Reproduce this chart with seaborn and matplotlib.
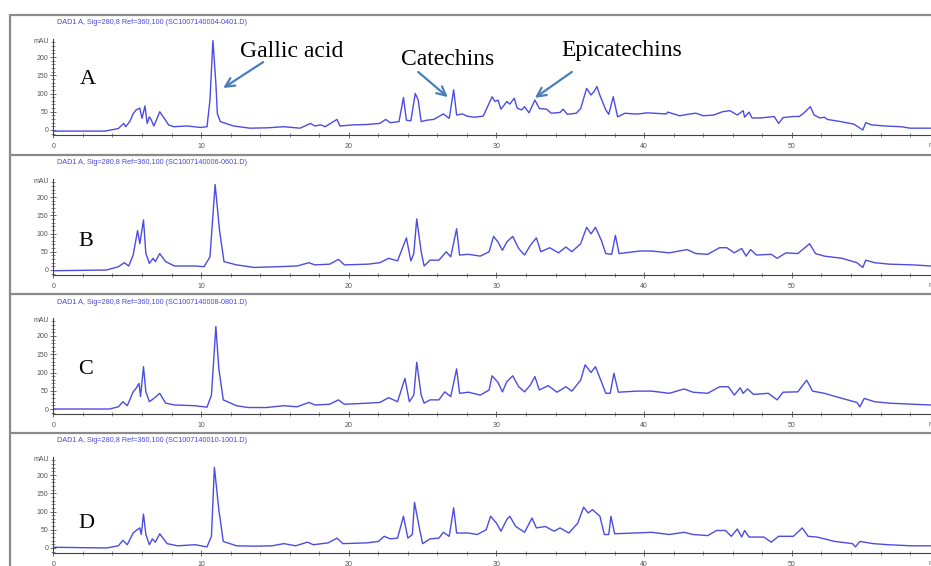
import matplotlib
matplotlib.use("Agg")
import matplotlib.pyplot as plt
import numpy as np
import pandas as pd
import seaborn as sns
from matplotlib.lines import Line2D
from matplotlib.ticker import MultipleLocator

# ---------------- data (retention time [min], signal [mAU]) ----------------
chrom_A = [(0, -3), (3.5, -3), (3.9, 0), (4.4, 4), (4.76, 18), (4.9, 9), (5.2, 25), (5.4, 45),
           (5.6, 55), (5.85, 60), (6.0, 32), (6.2, 66), (6.35, 18), (6.5, 36), (6.6, 30), (6.8, 11),
           (7.0, 30), (7.2, 50), (7.5, 32), (7.8, 14), (8.15, 9), (9.05, 11), (9.95, 7), (10.4, 9),
           (10.6, 82), (10.8, 245), (11.0, 128), (11.1, 45), (11.3, 23), (12.2, 11), (13.3, 5),
           (14.5, 6), (15.6, 9), (16.7, 5), (17.4, 18), (17.7, 11), (18.1, 14), (18.4, 9), (19.2, 29),
           (19.4, 11), (20.3, 14), (21.2, 15), (22.1, 18), (22.5, 29), (22.8, 20), (23.4, 23),
           (23.7, 89), (23.9, 27), (24.2, 25), (24.5, 100), (24.7, 82), (24.9, 23), (25.3, 27),
           (25.75, 29), (26.4, 44), (26.8, 32), (27.1, 110), (27.3, 41), (27.7, 44), (28.0, 38),
           (28.5, 35), (29.1, 38), (29.7, 91), (29.9, 78), (30.1, 82), (30.3, 57), (30.7, 78),
           (30.9, 71), (31.2, 87), (31.4, 60), (31.7, 55), (31.9, 64), (32.2, 47), (32.6, 82),
           (32.9, 59), (33.4, 57), (33.7, 46), (34.3, 48), (34.5, 57), (34.8, 43), (35.4, 46),
           (35.7, 59), (36.1, 114), (36.4, 96), (36.6, 105), (36.8, 119), (37.0, 95), (37.4, 55),
           (37.6, 43), (37.9, 91), (38.2, 36), (38.7, 46), (39.3, 44), (39.6, 44), (40.2, 47),
           (41.5, 44), (41.6, 49), (42.4, 39), (43.1, 44), (43.5, 46), (44.0, 39), (44.7, 41),
           (45.3, 50), (45.8, 53), (46.3, 41), (46.7, 53), (46.8, 35), (47.1, 49), (47.3, 33),
           (47.9, 33), (48.8, 37), (49.1, 18), (49.4, 34), (50.1, 37), (50.5, 37), (50.8, 46),
           (51.25, 64), (51.5, 41), (51.9, 33), (52.2, 35), (52.4, 29), (53.3, 23), (54.2, 16),
           (54.8, 0), (55.0, 20), (55.4, 14), (56.3, 11), (57.4, 9), (58.0, 5), (59.4, 5)]

chrom_B = [(0, -2), (3.6, 0), (4.4, 9), (4.8, 20), (5.1, 11), (5.4, 41), (5.7, 108), (5.85, 72),
           (6.1, 137), (6.26, 45), (6.5, 18), (6.75, 32), (6.9, 23), (7.2, 45), (7.6, 23), (8.2, 11),
           (9.6, 11), (10.2, 9), (10.6, 36), (10.95, 234), (11.25, 108), (11.55, 23), (12.4, 14),
           (13.6, 7), (15.2, 9), (16.5, 11), (17.3, 20), (17.7, 14), (18.7, 16), (19.3, 29),
           (19.7, 14), (21.3, 16), (22.1, 20), (22.7, 32), (23.3, 25), (23.9, 88), (24.2, 25),
           (24.4, 45), (24.6, 140), (24.9, 50), (25.1, 11), (25.5, 27), (26.1, 27), (26.6, 50),
           (26.9, 36), (27.3, 113), (27.5, 41), (28.1, 43), (28.9, 38), (29.5, 50), (29.8, 92),
           (30.1, 77), (30.4, 54), (30.7, 77), (31.1, 92), (31.5, 59), (31.9, 41), (32.3, 68),
           (32.7, 88), (33.0, 50), (33.6, 61), (34.2, 47), (34.7, 63), (35.1, 50), (35.7, 72),
           (36.1, 117), (36.4, 99), (36.7, 117), (37.1, 81), (37.4, 45), (37.8, 43), (38.05, 95),
           (38.3, 45), (39.7, 52), (40.5, 52), (41.7, 47), (42.9, 56), (43.5, 45), (44.3, 43),
           (45.1, 61), (45.6, 61), (46.1, 47), (46.6, 59), (46.9, 38), (47.2, 56), (47.6, 41),
           (48.6, 43), (49.0, 32), (49.6, 47), (50.4, 45), (51.2, 72), (51.6, 45), (52.2, 38),
           (53.4, 32), (54.4, 20), (54.8, 7), (55.0, 27), (55.6, 20), (56.6, 16), (58.2, 14),
           (59.4, 11)]

chrom_C = [(0, 0), (3.8, 0), (4.4, 6), (4.7, 20), (5.0, 9), (5.4, 47), (5.6, 57), (5.8, 70),
           (5.9, 34), (6.1, 116), (6.26, 47), (6.5, 20), (6.8, 29), (7.2, 43), (7.6, 16), (8.2, 11),
           (9.6, 9), (10.4, 5), (10.7, 38), (11.0, 226), (11.2, 111), (11.5, 25), (12.4, 9),
           (13.2, 4), (14.4, 4), (15.6, 9), (16.5, 6), (17.3, 18), (17.7, 11), (18.7, 13),
           (19.3, 25), (19.7, 13), (21.3, 16), (22.1, 18), (22.7, 31), (23.3, 20), (23.8, 84),
           (24.1, 20), (24.4, 38), (24.6, 128), (24.9, 38), (25.1, 16), (25.5, 25), (26.1, 25),
           (26.5, 47), (26.9, 34), (27.3, 110), (27.5, 43), (28.1, 46), (28.9, 38), (29.5, 52),
           (29.7, 91), (30.1, 73), (30.4, 47), (30.7, 75), (31.1, 91), (31.5, 61), (31.9, 47),
           (32.3, 66), (32.6, 89), (32.9, 52), (33.5, 64), (34.1, 46), (34.7, 61), (35.1, 49),
           (35.7, 79), (36.0, 121), (36.4, 100), (36.7, 116), (37.1, 75), (37.4, 43), (37.7, 43),
           (37.95, 98), (38.25, 46), (39.5, 49), (40.5, 49), (41.7, 43), (42.7, 55), (43.3, 46),
           (44.3, 43), (45.1, 61), (45.7, 61), (46.1, 38), (46.5, 58), (46.7, 43), (47.0, 55),
           (47.4, 40), (48.4, 43), (49.0, 25), (49.4, 46), (50.4, 47), (51.0, 79), (51.4, 49),
           (52.2, 43), (53.4, 29), (54.4, 18), (54.6, 6), (54.9, 29), (55.6, 20), (56.6, 16),
           (58.2, 13), (59.4, 11)]

chrom_D = [(0, 2), (3.6, 0), (4.4, 6), (4.7, 21), (5.0, 9), (5.4, 41), (5.6, 48), (5.85, 55),
           (5.95, 37), (6.1, 93), (6.26, 37), (6.5, 9), (6.7, 25), (6.9, 16), (7.2, 39), (7.7, 12),
           (8.4, 6), (9.6, 9), (10.4, 3), (10.7, 32), (10.9, 221), (11.2, 105), (11.5, 18),
           (12.4, 6), (13.6, 5), (14.8, 6), (15.6, 12), (16.4, 6), (17.2, 16), (17.6, 9),
           (18.6, 14), (19.2, 27), (19.6, 12), (21.2, 14), (22.0, 18), (22.4, 32), (22.8, 25),
           (23.3, 27), (23.7, 87), (24.0, 27), (24.3, 37), (24.45, 125), (24.8, 50), (25.0, 12),
           (25.5, 25), (26.1, 27), (26.4, 43), (26.8, 32), (27.1, 110), (27.3, 41), (28.1, 41),
           (28.7, 37), (29.3, 50), (29.6, 87), (30.0, 68), (30.3, 46), (30.7, 78), (30.9, 87),
           (31.3, 59), (31.9, 43), (32.4, 82), (32.7, 55), (33.3, 59), (33.9, 46), (34.3, 55),
           (34.9, 41), (35.5, 68), (35.9, 112), (36.2, 96), (36.5, 105), (37.0, 87), (37.3, 37),
           (37.6, 37), (37.75, 87), (38.0, 39), (39.3, 41), (40.5, 43), (41.7, 37), (42.7, 43),
           (43.3, 37), (44.3, 34), (44.9, 48), (45.5, 48), (45.9, 32), (46.3, 52), (46.6, 30),
           (46.8, 48), (47.1, 30), (48.1, 30), (48.6, 16), (49.1, 32), (50.1, 32), (50.7, 55),
           (51.1, 32), (51.7, 30), (52.9, 18), (54.1, 12), (54.3, 3), (54.6, 18), (55.5, 12),
           (56.5, 9), (58.1, 6), (59.4, 6)]

panel_labels = ["A", "B", "C", "D"]
run_files = ["SC1007140004-0401.D", "SC1007140006-0601.D",
             "SC1007140008-0801.D", "SC1007140010-1001.D"]
signal_desc = "DAD1 A, Sig=280,8 Ref=360,100"
x_ticks = [0, 10, 20, 30, 40, 50]
y_ticks = [0, 50, 100, 150, 200]
compound_names = ["Gallic acid", "Catechins", "Epicatechins"]

# ---------------- layout (pixels, origin top-left) ----------------
W, H = 931, 566
fig = plt.figure(figsize=(W / 100, H / 100), dpi=100)
sns.set_theme(style="white")
plt.rcParams["font.family"] = ["Liberation Sans", "DejaVu Sans"]
fig.patch.set_facecolor("white")


def fx(px):
    return px / W


def fy(py):
    return 1 - py / H


LINE = "#4c4ce0"
ARROW = "#4A7EBB"
separators = [15, 155, 294, 433]
zero_rows = [130, 270, 409, 548]
label_levels = [137, 77, 107, 68]
label_x = [2.35, 2.2, 2.2, 2.2]
SCALE = 0.365            # px per mAU
X0, PX_PER_MIN = 53.4, 14.77
YMIN, YMAX = -14, 249
XMAX = (W - X0) / PX_PER_MIN

chroms = [chrom_A, chrom_B, chrom_C, chrom_D]

# frame lines
for s in separators:
    fig.add_artist(Line2D([fx(10), 1], [fy(s), fy(s)], color="#8a8a8a", lw=1.6))
fig.add_artist(Line2D([fx(10), fx(10)], [fy(separators[0]), 0], color="#8a8a8a", lw=1.6))

axes = []
for i, data in enumerate(chroms):
    y0 = zero_rows[i]
    bottom_px = y0 - YMIN * SCALE
    height_px = (YMAX - YMIN) * SCALE
    ax = fig.add_axes([fx(X0), fy(bottom_px), (W - X0) / W, height_px / H])
    ax.set_facecolor("none")
    df = pd.DataFrame(data, columns=["time", "mAU"])
    sns.lineplot(data=df, x="time", y="mAU", ax=ax, sort=False, estimator=None,
                 color=LINE, lw=1.0)
    ax.set_xlim(0, XMAX)
    ax.set_ylim(YMIN, YMAX)
    ax.set_xlabel("")
    ax.set_ylabel("")
    for sp in ["top", "right"]:
        ax.spines[sp].set_visible(False)
    for sp in ["left", "bottom"]:
        ax.spines[sp].set_color("#444444")
        ax.spines[sp].set_linewidth(0.8)
    ax.set_xticks(x_ticks)
    ax.set_yticks(y_ticks)
    ax.xaxis.set_minor_locator(MultipleLocator(2))
    ax.yaxis.set_minor_locator(MultipleLocator(10))
    ax.tick_params(axis="both", which="major", direction="inout", length=4, width=0.6,
                   labelsize=5, colors="#555555", pad=1.5)
    ax.tick_params(axis="x", which="major", pad=4)
    ax.tick_params(axis="both", which="minor", direction="inout", length=2.5, width=0.5,
                   colors="#555555")
    ax.tick_params(axis="x", which="both", bottom=True)
    ax.tick_params(axis="y", which="both", left=True)
    ax.grid(False)
    ax.annotate("mAU", xy=(0, 243), xycoords="data", xytext=(-3, 0),
                textcoords="offset points", ha="right", va="center", fontsize=5,
                color="#555555")
    ax.annotate("min", xy=(XMAX - 0.2, 0), xycoords=("data", "axes fraction"),
                xytext=(0, -5), textcoords="offset points", ha="left", va="top",
                fontsize=5, color="#555555", annotation_clip=False)
    ax.text(label_x[i], label_levels[i], panel_labels[i], ha="center", va="center",
            fontsize=16, family="Liberation Serif", color="black")
    fig.text(fx(57), fy(separators[i] + 8), f"{signal_desc} ({run_files[i]})",
             fontsize=5.2, color="#4848d8", va="center", ha="left")
    axes.append(ax)

# compound annotations on panel A
axA = axes[0]
text_pos = [(16.1, 214), (26.7, 192), (38.5, 219)]
arrow_tail = [(14.2, 186), (24.7, 159), (35.1, 159)]
arrow_head = [(11.5, 115), (26.7, 90), (32.6, 88)]
for name, tp, tail, head in zip(compound_names, text_pos, arrow_tail, arrow_head):
    axA.text(tp[0], tp[1], name, ha="center", va="center", fontsize=17,
             family="Liberation Serif", color="black")
    axA.annotate("", xy=head, xytext=tail, xycoords="data", textcoords="data",
                 arrowprops=dict(arrowstyle="->", color=ARROW, lw=1.6,
                                 mutation_scale=16, shrinkA=0, shrinkB=0))

fig.savefig("out.png", dpi=100, facecolor="white")
